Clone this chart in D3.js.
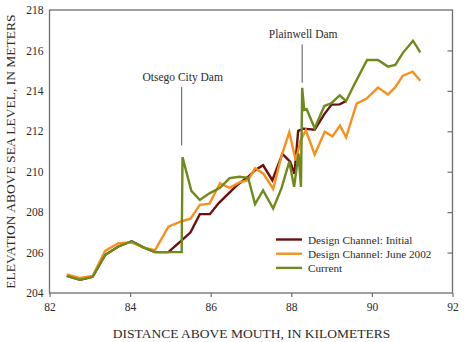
<!DOCTYPE html>
<html>
<head>
<meta charset="utf-8">
<script src="https://cdn.jsdelivr.net/npm/d3@7"></script>
<style>
  html, body { margin: 0; padding: 0; background: #fff; }
  svg { display: block; }
  text { font-family: "Liberation Serif", "Times New Roman", serif; fill: #2b2b2b; }
</style>
</head>
<body>
<svg id="chart" width="474" height="342"></svg>
<script>
// River profile: distance above mouth (km) vs. elevation (m)
const xTicks = [82, 84, 86, 88, 90, 92];
const yTicks = [204, 206, 208, 210, 212, 214, 216, 218];

const seriesNames = ["Design Channel: Initial", "Design Channel: June 2002", "Current"];
const seriesColors = ["#6e0f0f", "#f7901e", "#6f8a1b"];

const initialKm   = [82.43, 82.76, 83.07, 83.38, 83.71, 84.04, 84.33, 84.62, 84.95, 85.28, 85.50, 85.73, 85.98, 86.20, 86.44, 86.68, 86.93, 87.10, 87.30, 87.53, 87.78, 87.97, 88.08, 88.17, 88.30, 88.58, 88.82, 89.00, 89.20, 89.36];
const initialElev = [204.85, 204.65, 204.80, 205.88, 206.30, 206.56, 206.26, 206.02, 206.02, 206.60, 207.00, 207.90, 207.90, 208.45, 208.92, 209.38, 209.75, 210.08, 210.32, 209.58, 210.88, 210.50, 209.90, 212.02, 212.13, 212.08, 212.85, 213.32, 213.33, 213.50];

const juneKm   = [82.43, 82.76, 83.07, 83.38, 83.71, 84.04, 84.33, 84.62, 84.95, 85.28, 85.50, 85.73, 85.97, 86.23, 86.47, 86.71, 86.93, 87.10, 87.31, 87.55, 87.76, 87.95, 88.11, 88.23, 88.36, 88.58, 88.83, 89.02, 89.21, 89.36, 89.62, 89.87, 90.15, 90.40, 90.57, 90.77, 91.01, 91.20];
const juneElev = [204.92, 204.74, 204.84, 206.08, 206.46, 206.50, 206.24, 206.12, 207.28, 207.55, 207.68, 208.36, 208.42, 209.43, 209.20, 209.47, 209.58, 210.17, 209.90, 209.15, 210.80, 211.95, 210.55, 211.55, 212.05, 210.85, 211.98, 211.75, 212.28, 211.70, 213.37, 213.62, 214.16, 213.82, 214.16, 214.75, 214.95, 214.50];

const currentKm   = [82.43, 82.76, 83.07, 83.38, 83.71, 84.04, 84.33, 84.62, 84.95, 85.28, 85.30, 85.52, 85.73, 85.97, 86.23, 86.47, 86.71, 86.93, 87.10, 87.30, 87.55, 87.76, 87.95, 88.07, 88.18, 88.24, 88.27, 88.32, 88.38, 88.58, 88.82, 89.00, 89.20, 89.36, 89.56, 89.88, 90.15, 90.40, 90.58, 90.77, 91.02, 91.20];
const currentElev = [204.85, 204.65, 204.80, 205.88, 206.30, 206.56, 206.26, 206.02, 206.02, 206.02, 210.72, 209.05, 208.60, 208.93, 209.20, 209.68, 209.75, 209.70, 208.40, 209.08, 208.18, 209.20, 210.50, 209.25, 210.90, 209.25, 214.15, 213.06, 213.10, 212.15, 213.25, 213.40, 213.78, 213.50, 214.30, 215.53, 215.53, 215.20, 215.28, 215.88, 216.48, 215.90];

const dams = [
  { name: "Otsego City Dam", km: 85.28, labelElev: 214.5, lineTop: 214.2, lineBottom: 211.3 },
  { name: "Plainwell Dam",   km: 88.27, labelElev: 216.6, lineTop: 216.3, lineBottom: 214.4 }
];

const svg = d3.select("#chart");
const plot = { left: 49.5, right: 452.5, top: 10, bottom: 293 };

const x = d3.scaleLinear().domain([82, 92]).range([plot.left, plot.right]);
const y = d3.scaleLinear().domain([204, 218]).range([plot.bottom, plot.top]);

const frameColor = "#6e6e6e";

// Frame
svg.append("rect")
  .attr("x", plot.left).attr("y", plot.top)
  .attr("width", plot.right - plot.left).attr("height", plot.bottom - plot.top)
  .attr("fill", "none").attr("stroke", frameColor).attr("stroke-width", 1.3);

// Bottom axis (ticks outward)
const xAxis = svg.append("g")
  .attr("transform", `translate(0,${plot.bottom})`)
  .call(d3.axisBottom(x).tickValues(xTicks).tickSize(4).tickPadding(6).tickFormat(d3.format("d")));
xAxis.select(".domain").remove();
xAxis.selectAll("line").attr("stroke", frameColor).attr("stroke-width", 1.2);
xAxis.selectAll("text").attr("font-size", 11.5).attr("font-family", "Liberation Serif").attr("fill", "#2b2b2b");

// Left axis labels
const yAxis = svg.append("g")
  .attr("transform", `translate(${plot.left},0)`)
  .call(d3.axisLeft(y).tickValues(yTicks).tickSize(0).tickPadding(6).tickFormat(d3.format("d")));
yAxis.select(".domain").remove();
yAxis.selectAll("text").attr("font-size", 11.5).attr("font-family", "Liberation Serif").attr("fill", "#2b2b2b");

// Right axis ticks (inward)
const yRight = svg.append("g")
  .attr("transform", `translate(${plot.right},0)`)
  .call(d3.axisLeft(y).tickValues(yTicks.slice(1, -1)).tickSize(5).tickFormat(""));
yRight.select(".domain").remove();
yRight.selectAll("line").attr("stroke", frameColor).attr("stroke-width", 1.2).attr("x2", -5);

// Axis titles
svg.append("text")
  .attr("x", (plot.left + plot.right) / 2 + 0.5).attr("y", 338)
  .attr("text-anchor", "middle").attr("font-size", 13.5)
  .text("DISTANCE ABOVE MOUTH, IN KILOMETERS");

svg.append("text")
  .attr("transform", `translate(15,${(plot.top + plot.bottom) / 2}) rotate(-90)`)
  .attr("text-anchor", "middle").attr("font-size", 13.5)
  .text("ELEVATION ABOVE SEA LEVEL, IN METERS");

// Profiles
const line = d3.line().x(d => x(d[0])).y(d => y(d[1]));
const series = [
  d3.zip(initialKm, initialElev),
  d3.zip(juneKm, juneElev),
  d3.zip(currentKm, currentElev)
];
series.forEach((pts, i) => {
  svg.append("path")
    .datum(pts)
    .attr("d", line)
    .attr("fill", "none")
    .attr("stroke", seriesColors[i])
    .attr("stroke-width", 2.4)
    .attr("stroke-linejoin", "miter");
});

// Dam annotations
dams.forEach(d => {
  svg.append("line")
    .attr("x1", x(d.km)).attr("x2", x(d.km))
    .attr("y1", y(d.lineTop)).attr("y2", y(d.lineBottom))
    .attr("stroke", "#555").attr("stroke-width", 1);
  svg.append("text")
    .attr("x", x(d.km) + 1).attr("y", y(d.labelElev))
    .attr("text-anchor", "middle").attr("font-size", 11.5)
    .text(d.name);
});

// Legend
const legend = svg.append("g").attr("transform", "translate(276,239.5)");
seriesNames.forEach((name, i) => {
  const row = legend.append("g").attr("transform", `translate(0,${i * 14.2})`);
  row.append("line").attr("x1", 0).attr("x2", 26).attr("y1", 0).attr("y2", 0)
    .attr("stroke", seriesColors[i]).attr("stroke-width", 2.4);
  row.append("text").attr("x", 32).attr("y", 4).attr("font-size", 11.2).text(name);
});
</script>
</body>
</html>
